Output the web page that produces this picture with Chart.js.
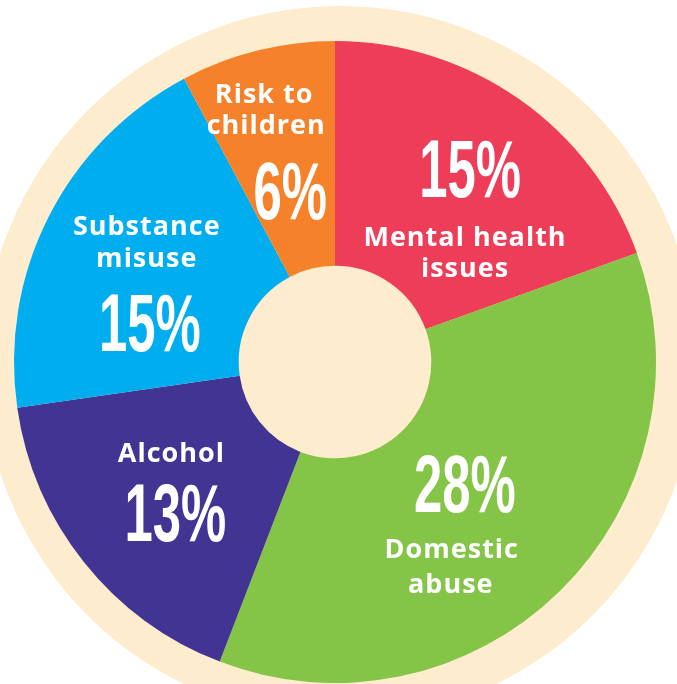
<!DOCTYPE html>
<html>
<head>
<meta charset="utf-8">
<script src="https://cdn.jsdelivr.net/npm/chart.js@4"></script>
<style>
  html, body { margin: 0; padding: 0; background: #ffffff; width: 677px; height: 684px; overflow: hidden; }
  #wrap { position: absolute; left: -26px; top: 1px; width: 722px; height: 722px; }
</style>
</head>
<body>
<div id="wrap"><canvas id="c"></canvas></div>
<script>
// ---- data ----
const categories = ['Mental health issues', 'Domestic abuse', 'Alcohol', 'Substance misuse', 'Risk to children'];
const labelLines = [['Mental health', 'issues'], ['Domestic', 'abuse'], ['Alcohol'], ['Substance', 'misuse'], ['Risk to', 'children']];
const values = [15, 28, 13, 15, 6];

// ---- style ----
const colors = ['#EE3D58', '#84C446', '#413492', '#00AEEF', '#F5822A'];
const cream = '#FDECCE';
// per-slice text layout: 'p' = percentage, number = label line index; dx/dy from slice anchor
const textLayout = [
  [{t: 'p', dx: 17, dy: -26}, {t: 0, dx: 12, dy: 42}, {t: 1, dx: 12, dy: 73}],
  [{t: 'p', dx: -14, dy: -26}, {t: 0, dx: -27, dy: 39}, {t: 1, dx: -28, dy: 74}],
  [{t: 0, dx: -3, dy: -38}, {t: 'p', dx: 1, dy: 22}],
  [{t: 0, dx: -5, dy: -44}, {t: 1, dx: -5, dy: -12}, {t: 'p', dx: -2, dy: 53}],
  [{t: 0, dx: -21, dy: -70}, {t: 1, dx: -19, dy: -39}, {t: 'p', dx: 5, dy: 27}]
];

const creamPlugin = {
  id: 'cream',
  beforeDatasetsDraw(chart) {
    const arc = chart.getDatasetMeta(0).data[0];
    if (!arc) return;
    const {x, y, outerRadius} = arc.getProps(['x', 'y', 'outerRadius'], true);
    const ctx = chart.ctx;
    ctx.save();
    ctx.fillStyle = cream;
    ctx.beginPath();
    ctx.arc(x + 5, y + 1, outerRadius + 36, 0, Math.PI * 2);
    ctx.fill();
    ctx.restore();
  }
};

const textPlugin = {
  id: 'sliceText',
  afterDatasetsDraw(chart) {
    const ctx = chart.ctx;
    const meta = chart.getDatasetMeta(0);
    ctx.save();
    ctx.fillStyle = '#ffffff';
    ctx.textAlign = 'center';
    ctx.textBaseline = 'alphabetic';
    meta.data.forEach((arc, i) => {
      const p = arc.getProps(['x', 'y', 'startAngle', 'endAngle', 'outerRadius'], true);
      const mid = (p.startAngle + p.endAngle) / 2;
      const ax = p.x + Math.cos(mid) * p.outerRadius * 0.64;
      const ay = p.y + Math.sin(mid) * p.outerRadius * 0.64;
      textLayout[i].forEach(item => {
        const cx = ax + item.dx, cy = ay + item.dy;
        if (item.t === 'p') {
          const fs = 82;
          ctx.save();
          ctx.translate(cx, cy + fs * 0.355);
          ctx.scale(0.62, 1);
          ctx.font = 'bold ' + fs + 'px "Liberation Sans Narrow", "Liberation Sans", sans-serif';
          ctx.fillText(values[i] + '%', 0, 0);
          ctx.restore();
        } else {
          ctx.save();
          ctx.font = 'bold 27px "Open Sans", sans-serif';
          try { ctx.letterSpacing = '1px'; } catch (e) {}
          ctx.fillText(labelLines[i][item.t], cx, cy + 10);
          ctx.restore();
        }
      });
    });
    ctx.restore();
  }
};

new Chart(document.getElementById('c'), {
  type: 'doughnut',
  data: {
    labels: categories,
    datasets: [{
      data: values,
      backgroundColor: colors,
      borderWidth: 0,
      hoverOffset: 0
    }]
  },
  options: {
    responsive: true,
    maintainAspectRatio: false,
    animation: false,
    cutout: '30%',
    layout: { padding: 40 },
    events: [],
    plugins: { legend: { display: false }, tooltip: { enabled: false } }
  },
  plugins: [creamPlugin, textPlugin]
});
</script>
</body>
</html>
